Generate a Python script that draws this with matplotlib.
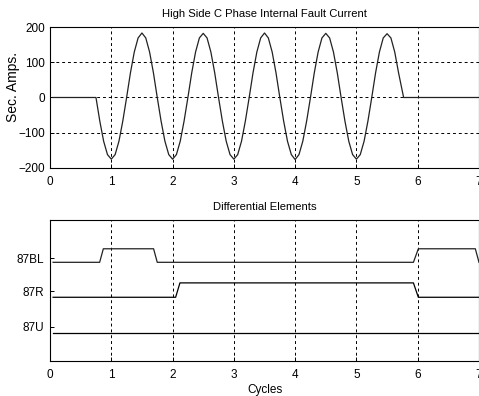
import matplotlib
matplotlib.use('Agg')
from matplotlib import pyplot as plt

plt.rcParams['font.family'] = ['Liberation Sans', 'DejaVu Sans']

# fault current, sampled every 1/16 cycle while the fault is on
t_cur = [0.05, 0.75,
         0.8125, 0.875, 0.9375, 1.0, 1.0625, 1.125, 1.1875, 1.25,
         1.3125, 1.375, 1.4375, 1.5, 1.5625, 1.625, 1.6875, 1.75,
         1.8125, 1.875, 1.9375, 2.0, 2.0625, 2.125, 2.1875, 2.25,
         2.3125, 2.375, 2.4375, 2.5, 2.5625, 2.625, 2.6875, 2.75,
         2.8125, 2.875, 2.9375, 3.0, 3.0625, 3.125, 3.1875, 3.25,
         3.3125, 3.375, 3.4375, 3.5, 3.5625, 3.625, 3.6875, 3.75,
         3.8125, 3.875, 3.9375, 4.0, 4.0625, 4.125, 4.1875, 4.25,
         4.3125, 4.375, 4.4375, 4.5, 4.5625, 4.625, 4.6875, 4.75,
         4.8125, 4.875, 4.9375, 5.0, 5.0625, 5.125, 5.1875, 5.25,
         5.3125, 5.375, 5.4375, 5.5, 5.5625, 5.625, 5.6875, 5.77,
         7.0]
i_cur = [0, 0,
         -67, -124, -162, -175, -162, -124, -67, 0,
         70, 129, 169, 183, 169, 129, 70, 0,
         -67, -124, -162, -175, -162, -124, -67, 0,
         70, 129, 169, 182, 169, 129, 70, 0,
         -67, -124, -162, -175, -162, -124, -67, 0,
         70, 129, 169, 183, 169, 129, 70, 0,
         -67, -124, -162, -176, -162, -124, -67, 0,
         70, 129, 169, 182, 169, 129, 70, 0,
         -67, -124, -162, -175, -162, -124, -67, 0,
         70, 129, 169, 181, 169, 129, 70, 0,
         0]

# differential element traces (cycles, plotted level)
t_87bl = [0.05, 0.81, 0.87, 1.69, 1.75, 5.93, 6.01, 6.94, 7.0]
y_87bl = [3.5, 3.5, 3.98, 3.98, 3.5, 3.5, 3.98, 3.98, 3.5]
t_87r = [0.05, 2.05, 2.12, 5.93, 6.01, 7.0]
y_87r = [2.26, 2.26, 2.77, 2.77, 2.26, 2.26]
t_87u = [0.05, 7.0]
y_87u = [1.0, 1.0]

elem_labels = ['87U', '87R', '87BL']
elem_label_pos = [1.22, 2.48, 3.64]

fig = plt.figure(figsize=(4.79, 3.96), dpi=100)

ax1 = fig.add_axes([0.1044, 0.5758, 0.8956, 0.356])
ax1.plot(t_cur, i_cur, color='#222222', lw=0.9)
ax1.set_xlim(0, 7)
ax1.set_ylim(-200, 200)
ax1.set_xticks(range(8))
ax1.set_yticks([-200, -100, 0, 100, 200])
ax1.grid(True, color='black', linestyle=(0, (3, 3)), lw=0.7)
ax1.set_ylabel('Sec. Amps.', fontsize=10)
ax1.yaxis.set_label_coords(-0.071, 0.575)
ax1.set_title('High Side C Phase Internal Fault Current', fontsize=8.1, pad=7)

ax2 = fig.add_axes([0.1044, 0.0884, 0.8956, 0.356])
ax2.plot(t_87bl, y_87bl, color='#222222', lw=0.9)
ax2.plot(t_87r, y_87r, color='black', lw=0.9)
ax2.plot(t_87u, y_87u, color='black', lw=0.9)
ax2.set_xlim(0, 7)
ax2.set_ylim(0, 5)
ax2.set_xticks(range(8))
ax2.set_yticks(elem_label_pos)
ax2.set_yticklabels(elem_labels)
ax2.xaxis.grid(True, color='black', linestyle=(0, (3, 3)), lw=0.7)
ax2.tick_params(axis='y', length=0, pad=4)
ax2.set_xlabel('Cycles', fontsize=8.5, labelpad=2)
ax2.set_title('Differential Elements', fontsize=8.1, pad=7)

for ax in (ax1, ax2):
    ax.tick_params(direction='in', length=3, labelsize=8.5, width=0.7)
    ax.tick_params(axis='x', pad=6)
    for s in ax.spines.values():
        s.set_linewidth(0.8)

fig.savefig('out.png', dpi=100)
